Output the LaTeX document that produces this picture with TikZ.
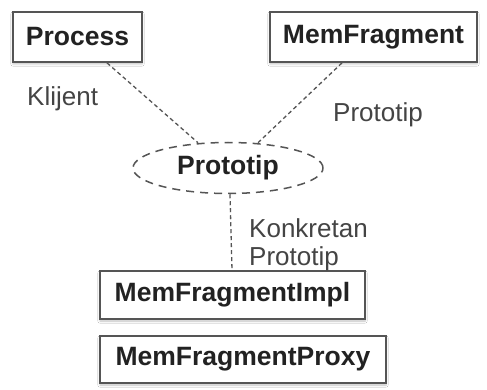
\documentclass[tikz,border=0pt]{standalone}
\usepackage{fontspec}
\setmainfont{Liberation Sans}
\usetikzlibrary{shapes.geometric,shadows.blur}
\definecolor{boxline}{HTML}{555555}
\definecolor{boxtext}{HTML}{222222}
\definecolor{labtext}{HTML}{444444}
\begin{document}
\begin{tikzpicture}[x=1pt,y=-1pt,
  cls/.style={draw=boxline,line width=1.8pt,fill=white,rectangle,inner sep=0pt,
    font=\fontsize{26.5}{29}\selectfont\bfseries,text=boxtext,
    blur shadow={shadow blur steps=6,shadow xshift=0pt,shadow yshift=-2pt,shadow opacity=25}},
  col/.style={draw=boxline,line width=1.5pt,dash pattern=on 8pt off 6pt,ellipse,inner sep=0pt,fill=white,
    font=\fontsize{26.5}{29}\selectfont\bfseries,text=boxtext},
  lab/.style={font=\fontsize{26}{27.5}\selectfont,text=labtext,inner sep=0pt},
  conn/.style={draw=boxline,line width=1.3pt,dash pattern=on 4pt off 3pt}]
\useasboundingbox (0,0) rectangle (487,390);
\fill[white] (0,0) rectangle (487,390);
\node[cls,minimum width=129pt,minimum height=50pt] (proc) at (77.5,37) {Process};
\node[cls,minimum width=207pt,minimum height=50pt] (memf) at (373.5,37) {MemFragment};
\node[col,minimum width=190pt,minimum height=51pt] (proto) at (228,168) {Prototip};
\node[cls,minimum width=265pt,minimum height=48pt] (impl) at (232.5,295) {MemFragmentImpl};
\node[cls,minimum width=286pt,minimum height=47pt] (proxy) at (243,359.5) {MemFragmentProxy};
\draw[conn] ([xshift=29.5pt]proc.south) -- ([xshift=-30pt,yshift=-1pt]proto.north);
\draw[conn] ([xshift=-31.5pt]memf.south) -- ([xshift=30pt,yshift=-1pt]proto.north);
\draw[conn] ([xshift=2pt]proto.south) -- ([xshift=-0.5pt]impl.north);
\node[lab,anchor=base west] (klijent) at (27,106) {Klijent};
\node[lab,anchor=base west] (protolab) at (333,122) {Prototip};
\node[lab,anchor=base west,align=left] (konk) at (249,265) {Konkretan\\Prototip};
\end{tikzpicture}
\end{document}
